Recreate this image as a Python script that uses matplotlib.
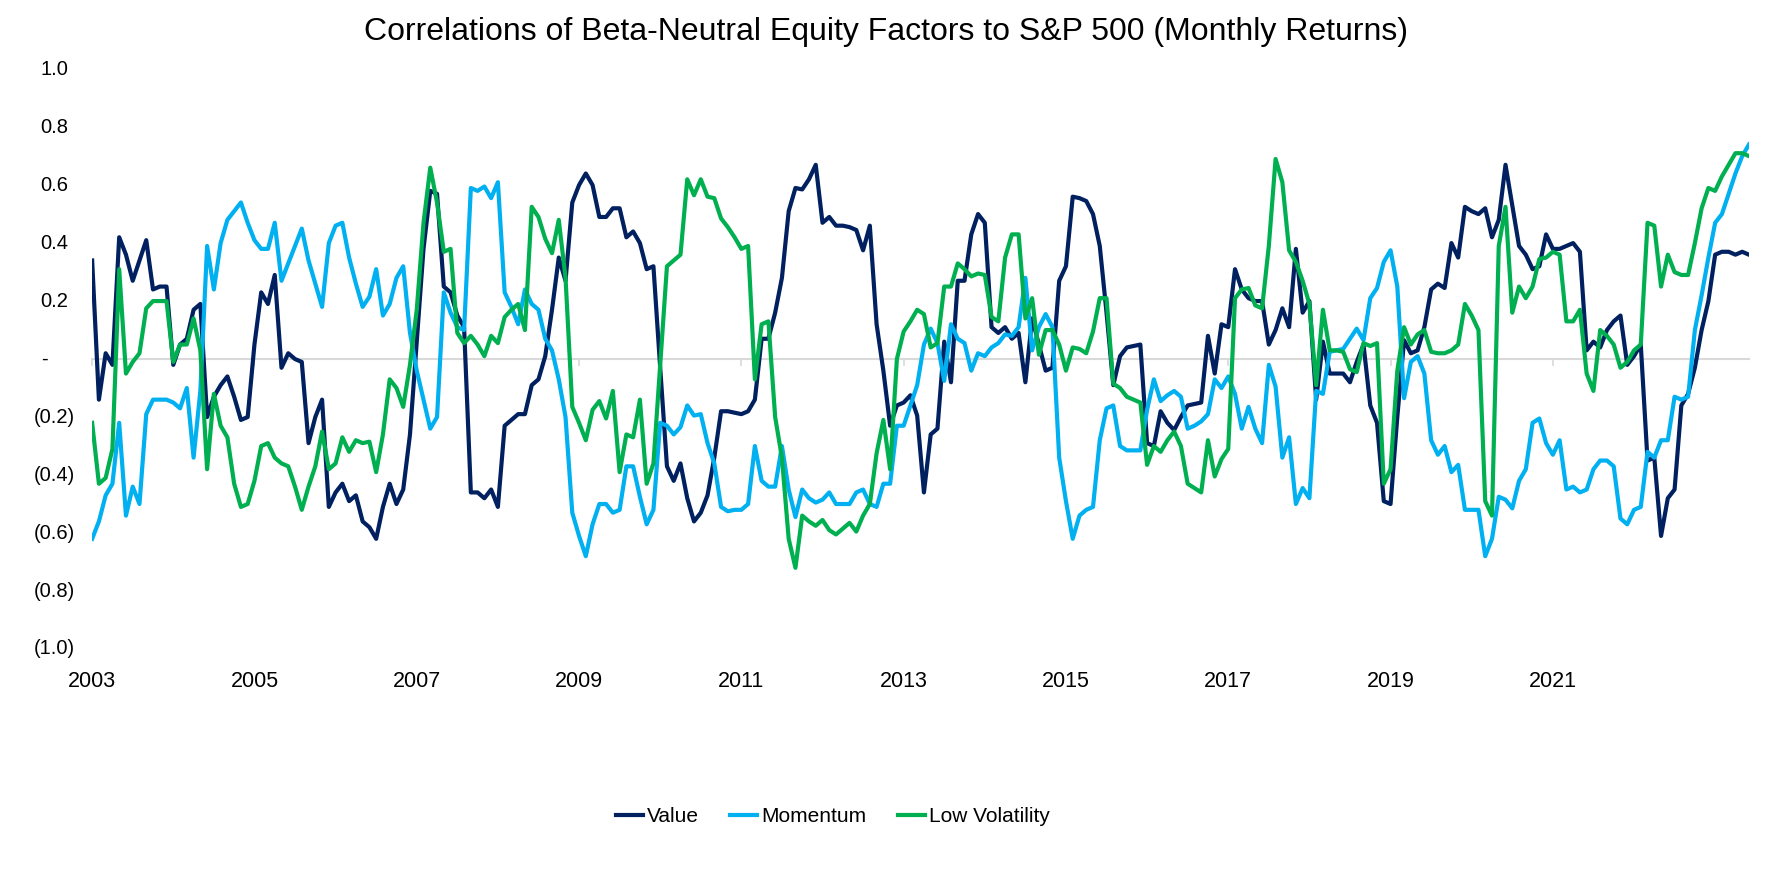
import matplotlib
matplotlib.use("Agg")
import matplotlib.pyplot as plt
import matplotlib.transforms as mtransforms

plt.rcParams["font.family"] = ["Liberation Sans", "DejaVu Sans"]

# monthly correlations, Jan 2003 - Jun 2023 (one row per year)
value = [
    0.34, -0.14, 0.02, -0.02, 0.42, 0.36, 0.27, 0.34, 0.41, 0.24, 0.25, 0.25,
    -0.02, 0.05, 0.07, 0.17, 0.19, -0.20, -0.13, -0.09, -0.06, -0.13, -0.21, -0.20,
    0.05, 0.23, 0.19, 0.29, -0.03, 0.02, 0.00, -0.01, -0.29, -0.20, -0.14, -0.51,
    -0.46, -0.43, -0.49, -0.47, -0.56, -0.58, -0.62, -0.51, -0.43, -0.50, -0.45, -0.26,
    0.06, 0.38, 0.58, 0.57, 0.25, 0.23, 0.15, 0.11, -0.46, -0.46, -0.48, -0.45,
    -0.51, -0.23, -0.21, -0.19, -0.19, -0.09, -0.07, 0.01, 0.17, 0.35, 0.27, 0.54,
    0.60, 0.64, 0.60, 0.49, 0.49, 0.52, 0.52, 0.42, 0.44, 0.40, 0.31, 0.32,
    -0.03, -0.37, -0.42, -0.36, -0.48, -0.56, -0.53, -0.47, -0.34, -0.18, -0.18, -0.185,
    -0.19, -0.18, -0.14, 0.07, 0.07, 0.16, 0.28, 0.51, 0.59, 0.585, 0.62, 0.67,
    0.47, 0.49, 0.46, 0.46, 0.455, 0.445, 0.375, 0.46, 0.12, -0.04, -0.23, -0.16,
    -0.15, -0.125, -0.195, -0.46, -0.26, -0.24, 0.06, -0.08, 0.27, 0.27, 0.43, 0.50,
    0.47, 0.11, 0.09, 0.11, 0.07, 0.09, -0.08, 0.14, 0.05, -0.04, -0.03, 0.27,
    0.32, 0.56, 0.555, 0.545, 0.50, 0.39, 0.16, -0.09, 0.01, 0.04, 0.045, 0.05,
    -0.29, -0.30, -0.18, -0.22, -0.245, -0.20, -0.16, -0.155, -0.15, 0.08, -0.05, 0.12,
    0.11, 0.31, 0.24, 0.21, 0.20, 0.20, 0.05, 0.10, 0.175, 0.11, 0.38, 0.16,
    0.20, -0.14, 0.06, -0.05, -0.05, -0.05, -0.08, -0.01, 0.05, -0.16, -0.22, -0.49,
    -0.50, -0.20, 0.065, 0.02, 0.03, 0.11, 0.24, 0.26, 0.245, 0.40, 0.35, 0.525,
    0.51, 0.50, 0.52, 0.42, 0.48, 0.67, 0.53, 0.39, 0.36, 0.31, 0.32, 0.43,
    0.38, 0.38, 0.39, 0.40, 0.37, 0.03, 0.06, 0.04, 0.10, 0.13, 0.15, -0.02,
    0.01, 0.05, -0.35, -0.34, -0.61, -0.48, -0.45, -0.16, -0.12, -0.03, 0.10, 0.20,
    0.36, 0.37, 0.37, 0.36, 0.37, 0.36,
]

momentum = [
    -0.62, -0.56, -0.47, -0.43, -0.22, -0.54, -0.44, -0.50, -0.19, -0.14, -0.14, -0.14,
    -0.15, -0.17, -0.10, -0.34, -0.11, 0.39, 0.24, 0.40, 0.48, 0.51, 0.54, 0.47,
    0.41, 0.38, 0.38, 0.47, 0.27, 0.33, 0.39, 0.45, 0.34, 0.26, 0.18, 0.40,
    0.46, 0.47, 0.35, 0.26, 0.18, 0.215, 0.31, 0.15, 0.19, 0.28, 0.32, 0.09,
    -0.04, -0.14, -0.24, -0.20, 0.23, 0.16, 0.11, 0.10, 0.59, 0.58, 0.595, 0.555,
    0.61, 0.23, 0.18, 0.12, 0.24, 0.19, 0.17, 0.07, 0.03, -0.07, -0.20, -0.53,
    -0.61, -0.68, -0.57, -0.50, -0.50, -0.53, -0.52, -0.37, -0.37, -0.475, -0.57, -0.52,
    -0.22, -0.23, -0.26, -0.235, -0.16, -0.195, -0.19, -0.29, -0.36, -0.51, -0.525, -0.52,
    -0.52, -0.50, -0.30, -0.42, -0.44, -0.44, -0.30, -0.45, -0.545, -0.45, -0.48, -0.495,
    -0.485, -0.46, -0.50, -0.50, -0.50, -0.46, -0.45, -0.50, -0.51, -0.43, -0.43, -0.23,
    -0.23, -0.16, -0.09, 0.05, 0.105, 0.055, -0.075, 0.12, 0.07, 0.055, -0.04, 0.02,
    0.01, 0.04, 0.055, 0.085, 0.08, 0.11, 0.28, 0.03, 0.11, 0.155, 0.11, -0.34,
    -0.49, -0.62, -0.54, -0.52, -0.51, -0.28, -0.17, -0.16, -0.30, -0.315, -0.315, -0.315,
    -0.175, -0.07, -0.145, -0.125, -0.11, -0.13, -0.24, -0.23, -0.215, -0.19, -0.07, -0.10,
    -0.06, -0.12, -0.24, -0.165, -0.24, -0.29, -0.02, -0.095, -0.34, -0.27, -0.50, -0.445,
    -0.48, -0.11, -0.12, 0.025, 0.03, 0.035, 0.07, 0.105, 0.065, 0.21, 0.245, 0.335,
    0.375, 0.25, -0.135, -0.01, 0.01, -0.05, -0.28, -0.33, -0.30, -0.39, -0.365, -0.52,
    -0.52, -0.52, -0.68, -0.62, -0.475, -0.485, -0.515, -0.42, -0.38, -0.22, -0.205, -0.29,
    -0.33, -0.28, -0.45, -0.44, -0.46, -0.45, -0.38, -0.35, -0.35, -0.37, -0.55, -0.57,
    -0.52, -0.51, -0.32, -0.34, -0.28, -0.28, -0.13, -0.14, -0.13, 0.10, 0.22, 0.35,
    0.47, 0.50, 0.57, 0.64, 0.70, 0.74,
]

low_vol = [
    -0.22, -0.43, -0.41, -0.31, 0.31, -0.05, -0.01, 0.02, 0.175, 0.20, 0.20, 0.20,
    -0.01, 0.05, 0.05, 0.14, 0.03, -0.38, -0.12, -0.23, -0.27, -0.43, -0.51, -0.50,
    -0.42, -0.30, -0.29, -0.34, -0.36, -0.37, -0.44, -0.52, -0.44, -0.37, -0.25, -0.38,
    -0.36, -0.27, -0.32, -0.28, -0.29, -0.285, -0.39, -0.26, -0.07, -0.10, -0.165, -0.02,
    0.17, 0.47, 0.66, 0.54, 0.37, 0.38, 0.09, 0.055, 0.08, 0.05, 0.01, 0.08,
    0.055, 0.145, 0.17, 0.19, 0.10, 0.525, 0.49, 0.415, 0.365, 0.48, 0.28, -0.165,
    -0.22, -0.28, -0.175, -0.145, -0.205, -0.11, -0.39, -0.26, -0.27, -0.14, -0.43, -0.36,
    -0.02, 0.32, 0.34, 0.36, 0.62, 0.565, 0.62, 0.56, 0.555, 0.485, 0.455, 0.42,
    0.38, 0.39, -0.07, 0.12, 0.13, -0.20, -0.34, -0.62, -0.72, -0.54, -0.56, -0.575,
    -0.555, -0.59, -0.605, -0.585, -0.565, -0.595, -0.54, -0.50, -0.325, -0.21, -0.38, 0.00,
    0.095, 0.13, 0.17, 0.155, 0.04, 0.055, 0.25, 0.25, 0.33, 0.31, 0.285, 0.295,
    0.29, 0.145, 0.13, 0.35, 0.43, 0.43, 0.14, 0.21, 0.015, 0.10, 0.10, 0.05,
    -0.04, 0.04, 0.035, 0.02, 0.095, 0.21, 0.21, -0.085, -0.10, -0.13, -0.14, -0.15,
    -0.365, -0.30, -0.32, -0.28, -0.25, -0.30, -0.43, -0.445, -0.46, -0.28, -0.405, -0.345,
    -0.31, 0.21, 0.24, 0.245, 0.185, 0.175, 0.39, 0.69, 0.61, 0.375, 0.335, 0.27,
    0.19, -0.09, 0.17, 0.03, 0.03, 0.025, -0.035, -0.045, 0.055, 0.045, 0.055, -0.43,
    -0.38, -0.04, 0.11, 0.05, 0.085, 0.10, 0.025, 0.02, 0.02, 0.03, 0.05, 0.19,
    0.15, 0.10, -0.49, -0.54, 0.39, 0.525, 0.16, 0.25, 0.21, 0.25, 0.345, 0.35,
    0.37, 0.36, 0.13, 0.13, 0.17, -0.05, -0.11, 0.10, 0.08, 0.05, -0.03, -0.01,
    0.03, 0.05, 0.47, 0.46, 0.25, 0.36, 0.30, 0.29, 0.29, 0.40, 0.52, 0.59,
    0.58, 0.63, 0.67, 0.71, 0.71, 0.70,
]

year_labels = ["2003", "2005", "2007", "2009", "2011", "2013", "2015", "2017", "2019", "2021"]
y_ticks = [1.0, 0.8, 0.6, 0.4, 0.2, 0.0, -0.2, -0.4, -0.6, -0.8, -1.0]
y_tick_labels = ["1.0", "0.8", "0.6", "0.4", "0.2", "-", "(0.2)", "(0.4)", "(0.6)", "(0.8)", "(1.0)"]

NAVY = "#002060"
LIGHT_BLUE = "#00B0F0"
GREEN = "#00B050"
GRID = "#D9D9D9"

months = list(range(len(value)))
year_pos = [24 * i for i in range(len(year_labels))]

fig = plt.figure(figsize=(17.72, 8.86), dpi=100)
ax = fig.add_axes([0.052, 0.2675, 0.935, 0.6545])

ax.plot(months, value, color=NAVY, lw=3.0, label="Value", zorder=3)
ax.plot(months, momentum, color=LIGHT_BLUE, lw=3.0, label="Momentum", zorder=3)
ax.plot(months, low_vol, color=GREEN, lw=3.0, label="Low Volatility", zorder=3)

ax.set_xlim(0, len(value) - 1)
ax.set_ylim(-1.0, 1.0)

# horizontal axis crosses at zero, labels sit below the plot
for side in ["top", "right", "left"]:
    ax.spines[side].set_visible(False)
ax.spines["bottom"].set_position(("data", 0))
ax.spines["bottom"].set_color(GRID)
ax.spines["bottom"].set_linewidth(1.5)
ax.set_xticks(year_pos)
ax.tick_params(axis="x", direction="out", length=5, width=1.2, color=GRID, labelbottom=False)
ax.set_yticks([])

for pos, lab in zip(year_pos, year_labels):
    ax.annotate(lab, (pos, -1.0), xytext=(0, -22), textcoords="offset pixels",
                ha="center", va="top", fontsize=15.5, color="#000000")

trans = mtransforms.blended_transform_factory(fig.transFigure, ax.transData)
for v, lab in zip(y_ticks, y_tick_labels):
    if lab == "-":
        ax.text(0.023, v, lab, transform=trans, ha="left", va="center", fontsize=14.5)
    else:
        ax.text(0.0305, v, lab, transform=trans, ha="center", va="center", fontsize=14.5)

fig.text(0.5, 0.964, "Correlations of Beta-Neutral Equity Factors to S&P 500 (Monthly Returns)",
         ha="center", va="center", fontsize=23)

fig.legend(loc="center", bbox_to_anchor=(0.47, 0.078), ncol=3, frameon=False,
           fontsize=15, handlelength=1.3, handletextpad=0.2, columnspacing=1.5)

fig.savefig("out.png", dpi=100)
plt.close(fig)
